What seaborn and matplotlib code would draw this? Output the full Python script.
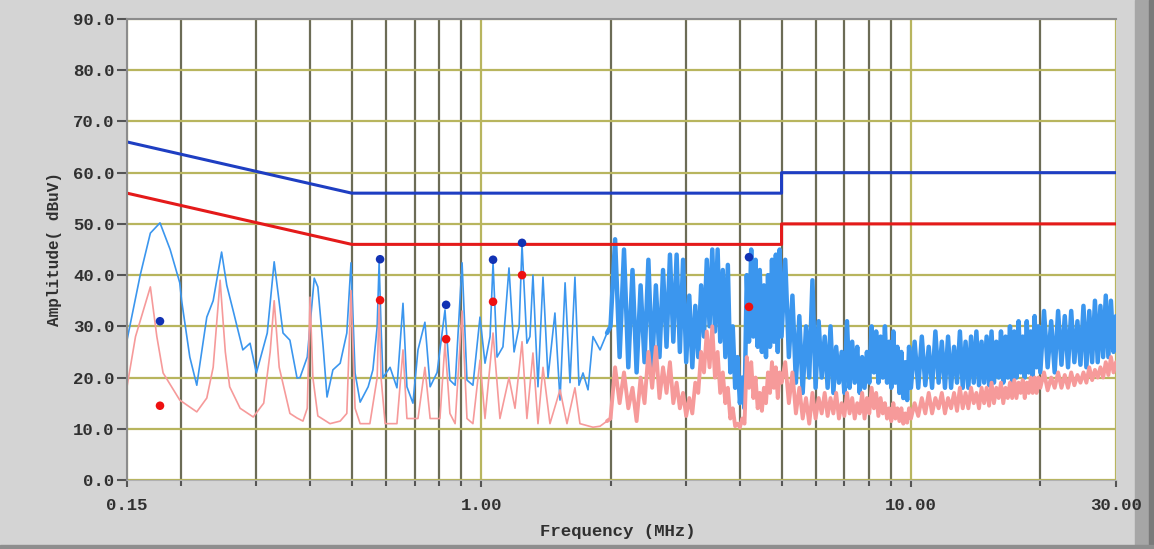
import matplotlib
matplotlib.use('Agg')
import matplotlib.pyplot as plt
import seaborn as sns
from matplotlib.patches import Rectangle
from matplotlib.ticker import FixedLocator, NullFormatter

# ---- data (frequency in MHz, level in dBuV) ----
blue_low_freq = [0.150, 0.161, 0.170, 0.179, 0.189, 0.199, 0.201, 0.210, 0.218, 0.230,
                 0.238, 0.249, 0.256, 0.265, 0.279, 0.290, 0.300, 0.318, 0.330, 0.346,
                 0.359, 0.373, 0.379, 0.394, 0.409, 0.417, 0.429, 0.438, 0.452, 0.470,
                 0.487, 0.498, 0.509, 0.523, 0.546, 0.560, 0.573, 0.579, 0.585, 0.591,
                 0.614, 0.637, 0.658, 0.672, 0.694, 0.713, 0.740, 0.761, 0.790, 0.824,
                 0.846, 0.870, 0.903, 0.927, 0.957, 0.994, 1.021, 1.049, 1.066, 1.089,
                 1.124, 1.161, 1.193, 1.226, 1.245, 1.278, 1.299, 1.320, 1.356, 1.393,
                 1.431, 1.485, 1.526, 1.568, 1.610, 1.653, 1.689, 1.726, 1.773, 1.821,
                 1.891, 1.963]
blue_low_amp = [27.3, 40, 48.2, 50.2, 45, 38.5, 35, 24, 18.5, 31.8,
                35, 44.5, 38, 33, 25.4, 26.7, 20.9, 28.7, 42.6, 28.7,
                27.3, 19.9, 20, 24, 39.4, 37.7, 26, 16.2, 21.5, 22.8,
                28.7, 42.4, 20.9, 15.2, 18.2, 21.5, 30, 42.5, 30, 20,
                22, 18, 34.5, 18.2, 15, 25.4, 30.8, 18.2, 21, 33.2,
                19.5, 18.5, 42.4, 19.5, 18.5, 31.8, 22.8, 28, 42.4, 24,
                26, 41.4, 25, 30, 45.9, 26.7, 28, 40, 18.2, 39.6,
                20, 32.6, 15.6, 38.5, 19, 39.6, 18.5, 20.9, 17.6, 28,
                25.4, 28.7]

pink_low_freq = [0.150, 0.157, 0.170, 0.176, 0.182, 0.199, 0.218, 0.230, 0.238, 0.247,
                 0.254, 0.260, 0.275, 0.295, 0.312, 0.323, 0.330, 0.339, 0.359, 0.373,
                 0.385, 0.394, 0.400, 0.406, 0.417, 0.445, 0.470, 0.487, 0.498, 0.509,
                 0.523, 0.551, 0.573, 0.579, 0.585, 0.598, 0.637, 0.658, 0.672, 0.713,
                 0.740, 0.761, 0.802, 0.824, 0.846, 0.870, 0.903, 0.927, 0.957, 0.994,
                 1.021, 1.066, 1.106, 1.161, 1.199, 1.245, 1.278, 1.320, 1.356, 1.393,
                 1.446, 1.526, 1.584, 1.653, 1.698, 1.821, 1.891, 1.963]
pink_low_amp = [18.2, 28, 37.7, 28, 20.9, 15.6, 13.3, 16, 22, 39,
                25, 18.2, 14, 12.3, 15, 25, 35, 22, 13, 12.1,
                11.5, 14, 35.7, 20, 12.5, 11, 11.5, 13, 37, 14,
                11, 11, 20, 34.5, 20, 11, 11, 25.4, 12, 12,
                22, 12, 12, 26.7, 13, 11, 33, 12, 11, 23.4,
                12, 28.7, 12, 20, 14, 27, 12, 24.8, 11, 22,
                11, 17.6, 11, 18, 11, 10.3, 10.5, 11.5]

# sweep points shared by both traces above 2 MHz
sweep_freq = [2.00, 2.05, 2.10, 2.15, 2.20, 2.25, 2.30, 2.35, 2.40, 2.45,
              2.50, 2.55, 2.60, 2.65, 2.70, 2.75, 2.80, 2.85, 2.90, 2.95,
              3.00, 3.05, 3.10, 3.15, 3.20, 3.25, 3.30, 3.35, 3.40, 3.45,
              3.50, 3.55, 3.60, 3.65, 3.70, 3.75, 3.80, 3.85, 3.90, 3.95,
              4.00, 4.05, 4.10, 4.15, 4.20, 4.25, 4.30, 4.35, 4.40, 4.45,
              4.50, 4.55, 4.60, 4.65, 4.70, 4.75, 4.80, 4.85, 4.90, 4.95,
              5.00,
              5.1, 5.2, 5.3, 5.4, 5.5, 5.6, 5.7, 5.8, 5.9, 6.0,
              6.1, 6.2, 6.3, 6.4, 6.5, 6.6, 6.7, 6.8, 6.9, 7.0,
              7.1, 7.2, 7.3, 7.4, 7.5, 7.6, 7.7, 7.8, 7.9, 8.0,
              8.1, 8.2, 8.3, 8.4, 8.5, 8.6, 8.7, 8.8, 8.9, 9.0,
              9.1, 9.2, 9.3, 9.4, 9.5, 9.6, 9.7, 9.8, 9.9, 10.0,
              10.2, 10.4, 10.6, 10.8, 11.0, 11.2, 11.4, 11.6, 11.8, 12.0,
              12.2, 12.4, 12.6, 12.8, 13.0, 13.2, 13.4, 13.6, 13.8, 14.0,
              14.2, 14.4, 14.6, 14.8, 15.0, 15.2, 15.4, 15.6, 15.8, 16.0,
              16.2, 16.4, 16.6, 16.8, 17.0, 17.2, 17.4, 17.6, 17.8, 18.0,
              18.2, 18.4, 18.6, 18.8, 19.0, 19.2, 19.4, 19.6, 19.8, 20.0,
              20.4, 20.8, 21.2, 21.6, 22.0, 22.4, 22.8, 23.2, 23.6, 24.0,
              24.4, 24.8, 25.2, 25.6, 26.0, 26.4, 26.8, 27.2, 27.6, 28.0,
              28.4, 28.8, 29.2, 29.6, 30.0]
blue_sweep_amp = [30, 47, 24, 45, 22, 41, 21, 38, 23, 43,
                  22, 38, 24, 41, 26, 44, 27, 44, 25, 43,
                  23, 36, 22, 34, 24, 38, 28, 43, 30, 45,
                  29, 45, 27, 41, 24, 42, 21, 30, 18, 24,
                  15, 20, 14, 40, 27, 45, 28, 43, 26, 41,
                  25, 38, 24, 40, 26, 43, 27, 44, 25, 45,
                  28,
                  43, 24, 36, 19, 32, 17, 30, 20, 39, 18,
                  31, 20, 28, 18, 30, 17, 26, 19, 25, 17,
                  31, 18, 27, 19, 26, 17, 24, 18, 25, 19,
                  30, 21, 29, 19, 28, 20, 30, 19, 27, 18,
                  29, 19, 26, 17, 25, 16, 23, 15.6, 26, 18,
                  27, 18, 28, 18.5, 26, 18, 29, 19, 27, 18,
                  28, 18, 26, 19, 29, 18, 27, 18, 28, 19,
                  29, 18.5, 27, 19, 28, 18.5, 29, 19, 27, 20,
                  29, 19, 28, 20, 30, 19, 29, 20, 31, 21,
                  28, 20, 31, 21, 29, 20, 32, 22, 30, 21,
                  33, 22, 31, 21, 33, 22.5, 32, 22, 33, 23,
                  31, 22.5, 34, 22, 33, 23, 35, 23, 34, 24,
                  36, 24, 35, 25, 32]
pink_sweep_amp = [12, 22, 15, 21, 14, 18, 11.5, 20, 15, 25,
                  18, 26, 16, 22, 17, 23, 15, 19, 14, 17,
                  12.5, 16, 13, 19, 17, 25, 21, 29, 22, 30,
                  20, 25, 17, 21, 15, 18, 12, 14, 10.5, 11,
                  10.3, 12, 11, 24, 18, 23, 16, 20, 14, 17,
                  13.5, 18, 15, 21, 17, 23, 18, 22, 16, 21,
                  19,
                  23, 15, 21, 13, 18, 12, 16, 11, 17, 12,
                  16, 13, 17, 12.5, 16, 13, 17, 12, 15, 12.5,
                  17, 13, 16, 12, 15, 13, 17, 12, 16, 13,
                  18, 14, 17, 12.5, 16, 13, 15, 12, 14, 11.5,
                  15, 12, 14, 11.5, 14, 11, 13, 11.2, 14, 12,
                  15, 12.5, 16, 13, 17, 13, 16, 14, 17, 13,
                  16, 14, 17, 13.5, 18, 14, 17, 14, 18, 15,
                  17, 14, 18, 15, 18, 14.5, 19, 15, 18, 16,
                  19, 15, 18, 16, 19, 16, 19.5, 16, 19, 17,
                  19.5, 16, 19, 17, 20, 17, 20, 17, 20, 18,
                  21, 17.5, 20, 18, 21, 18, 20.5, 18, 21, 18.5,
                  20.5, 19, 21, 19, 22, 19.5, 21.5, 20, 22, 20,
                  23, 20.5, 24, 21, 23]

limit_freq = [0.15, 0.5, 5.0, 5.0, 30.0]
qp_limit = [66, 56, 56, 60, 60]
av_limit = [56, 46, 46, 50, 50]

peak_freq = [0.179, 0.582, 0.829, 1.066, 1.245, 4.20]
qp_peak = [31.0, 43.1, 34.2, 43.0, 46.3, 43.5]
av_peak = [14.5, 35.1, 27.5, 34.8, 40.0, 33.8]

x_major = [0.15, 1.0, 10.0, 30.0]
x_labels = ['0.15', '1.00', '10.00', '30.00']
x_minor = [0.2, 0.3, 0.4, 0.5, 0.6, 0.7, 0.8, 0.9,
           2, 3, 4, 5, 6, 7, 8, 9, 20]
y_ticks = [0, 10, 20, 30, 40, 50, 60, 70, 80, 90]
y_labels = ['0.0', '10.0', '20.0', '30.0', '40.0', '50.0', '60.0', '70.0', '80.0', '90.0']

sns.set_style('white')
plt.rcParams['font.family'] = ['Liberation Mono', 'DejaVu Sans']

W, H = 1154, 549
fig = plt.figure(figsize=(W / 100, H / 100), dpi=100, facecolor='#d4d4d4')
ax = fig.add_axes([127 / W, 1 - 480 / H, (1116 - 127) / W, (480 - 19) / H])
ax.set_facecolor('white')
ax.set_xscale('log')

blue_c = '#3b96ee'
pink_c = '#f69a9a'
# thin part below 2 MHz, dense (thick) sweep above
sns.lineplot(x=blue_low_freq, y=blue_low_amp, sort=False, estimator=None,
             color=blue_c, lw=1.2, ax=ax)
sns.lineplot(x=blue_low_freq[-1:] + sweep_freq, y=blue_low_amp[-1:] + blue_sweep_amp,
             sort=False, estimator=None, color=blue_c, lw=3.2, ax=ax)
sns.lineplot(x=pink_low_freq, y=pink_low_amp, sort=False, estimator=None,
             color=pink_c, lw=1.2, ax=ax)
sns.lineplot(x=pink_low_freq[-1:] + sweep_freq, y=pink_low_amp[-1:] + pink_sweep_amp,
             sort=False, estimator=None, color=pink_c, lw=2.8, ax=ax)

sns.lineplot(x=limit_freq, y=qp_limit, sort=False, estimator=None,
             color='#1e3ec2', lw=2.2, ax=ax)
sns.lineplot(x=limit_freq, y=av_limit, sort=False, estimator=None,
             color='#e41a1a', lw=2.2, ax=ax)
sns.scatterplot(x=peak_freq, y=qp_peak, color='#1232b4', s=38, edgecolor='none',
                zorder=5, ax=ax)
sns.scatterplot(x=peak_freq, y=av_peak, color='#ee1010', s=38, edgecolor='none',
                zorder=5, ax=ax)

ax.set_xlim(0.15, 30)
ax.set_ylim(0, 90)
ax.xaxis.set_major_locator(FixedLocator(x_major))
ax.set_xticklabels(x_labels)
ax.xaxis.set_minor_locator(FixedLocator(x_minor))
ax.xaxis.set_minor_formatter(NullFormatter())
ax.set_yticks(y_ticks)
ax.set_yticklabels(y_labels)

ax.set_axisbelow(True)
ax.grid(which='major', axis='y', color='#b8b55e', lw=1.6)
ax.grid(which='major', axis='x', color='#b8b55e', lw=1.6)
ax.grid(which='minor', axis='x', color='#6c6c56', lw=1.6)

ax.tick_params(axis='y', left=True, direction='out', length=7, width=1.5,
               color='#555555', pad=2, labelsize=12.5, labelcolor='#303030')
ax.tick_params(axis='x', which='major', bottom=True, direction='out', length=5,
               width=1.5, color='#555555', pad=8, labelsize=12.5, labelcolor='#303030')
ax.tick_params(axis='x', which='minor', bottom=True, direction='out', length=4,
               width=1.5, color='#555555')
plt.setp(ax.get_xticklabels() + ax.get_yticklabels(), fontweight='bold')

for side in ['left', 'top']:
    ax.spines[side].set_color('#8c8c8c')
    ax.spines[side].set_linewidth(1.5)
ax.spines['right'].set_visible(False)
ax.spines['bottom'].set_color('#b0b0b0')

ax.set_xlabel('Frequency (MHz)', fontsize=12.5, color='#303030', fontweight='bold')
ax.xaxis.set_label_coords(0.4965, -0.095)
ax.set_ylabel('Amplitude( dBuV)', fontsize=11.5, color='#303030', fontweight='bold')
ax.yaxis.set_label_coords(-0.073, 0.5)
ax.yaxis.label.set_va('center')

# window frame on the right / bottom
fig.add_artist(Rectangle((1135 / W, 0), 19 / W, 1, transform=fig.transFigure,
                         color='#a6a6a6', zorder=-1))
fig.add_artist(Rectangle((1149 / W, 0), 5 / W, 1, transform=fig.transFigure,
                         color='#7a7a7a', zorder=-1))
fig.add_artist(Rectangle((0, 0), 1, 4 / H, transform=fig.transFigure,
                         color='#8e8e8e', zorder=-1))

fig.savefig('out.png', dpi=100, facecolor=fig.get_facecolor())
